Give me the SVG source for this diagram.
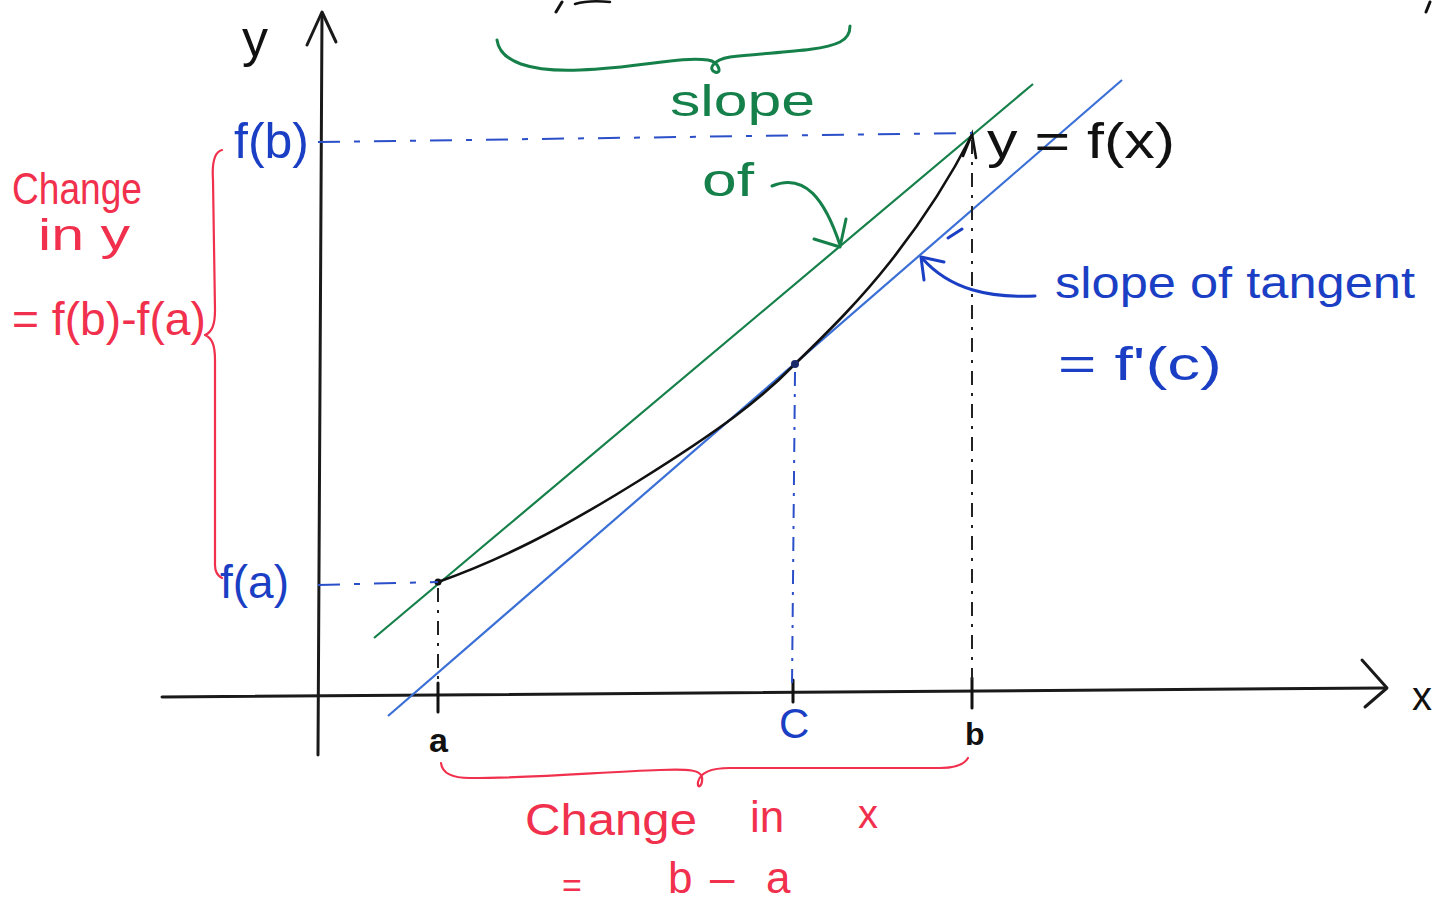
<svg xmlns="http://www.w3.org/2000/svg" width="1455" height="906" viewBox="0 0 1455 906">
<style>
.ax{stroke:#1a1a1a;stroke-width:3;fill:none;stroke-linecap:round;stroke-linejoin:round}
.crv{stroke:#111;stroke-width:2.6;fill:none;stroke-linecap:round}
.gl{stroke:#16804a;stroke-width:2.2;fill:none}
.bl{stroke:#3a6fd6;stroke-width:2.2;fill:none}
.gs{stroke:#16804a;stroke-width:3;fill:none;stroke-linecap:round;stroke-linejoin:round}
.bs{stroke:#1b3fc4;stroke-width:3;fill:none;stroke-linecap:round;stroke-linejoin:round}
.rs{stroke:#f0304c;stroke-width:2.2;fill:none;stroke-linecap:round;stroke-linejoin:round}
.dk{stroke:#222;stroke-width:2;fill:none;stroke-dasharray:14 8 3 8}
.db{stroke:#2a4fc8;stroke-width:2;fill:none;stroke-dasharray:22 14 6 14}
.dbv{stroke:#2a4fc8;stroke-width:2;fill:none;stroke-dasharray:14 8 3 8}
.tick{stroke:#111;stroke-width:3;stroke-linecap:round}
text{font-family:"Liberation Sans","DejaVu Sans",sans-serif}
.tk{fill:#111}
.tg{fill:#16804a}
.tb{fill:#1b3fc4}
.tr{fill:#f0304c}
</style>

<g id="axes">
  <path class="ax" d="M318,755 L322,14"/>
  <path class="ax" d="M307,45 L322,12 L336,42"/>
  <path class="ax" d="M162,697 L1386,688"/>
  <path class="ax" d="M1362,660 L1387,688 L1365,707"/>
  <text class="tk" x="242" y="56" font-size="52">y</text>
  <text class="tk" x="1412" y="710" font-size="40">x</text>
</g>

<g id="top-fragments">
  <path d="M556,12 L562,2" stroke="#111" stroke-width="3" fill="none" stroke-linecap="round"/>
  <path d="M575,4 C585,1 600,1 610,2" stroke="#111" stroke-width="2.5" fill="none" stroke-linecap="round"/>
  <path d="M1430,2 L1426,12" stroke="#111" stroke-width="3" fill="none" stroke-linecap="round"/>
</g>

<g id="secant-line">
  <path class="gl" d="M374,638 L1033,84"/>
</g>

<g id="tangent-line">
  <path class="bl" d="M388,716 L1122,80"/>
</g>

<g id="curve">
  <path class="crv" d="M438,582 C500,560 560,530 640,480 S760,400 795,364 C830,330 860,300 890,262 S950,178 972,135"/>
  <circle cx="438" cy="582" r="3.5" fill="#111"/>
  <circle cx="795" cy="364" r="4" fill="#1a2a6a"/>
  <path class="crv" d="M963,156 L972,134 L976,158"/>
  <text class="tk" x="987" y="158" font-size="50" textLength="188" lengthAdjust="spacingAndGlyphs">y = f(x)</text>
</g>

<g id="ticks">
  <path class="tick" d="M438,683 L438,712"/>
  <path class="tick" d="M793,680 L793,702"/>
  <path class="tick" d="M972,678 L972,708"/>
  <text class="tk" x="429" y="752" font-size="34" font-weight="bold">a</text>
  <text class="tb" x="779" y="738" font-size="42">C</text>
  <text class="tk" x="965" y="745" font-size="32" font-weight="bold">b</text>
</g>

<g id="y-labels">
  <text class="tb" x="234" y="158" font-size="50">f(b)</text>
  <text class="tb" x="220" y="598" font-size="46">f(a)</text>
</g>

<g id="connectors">
  <path class="db" d="M318,142 L972,133"/>
  <path class="db" d="M318,585 L438,582"/>
  <path class="dk" d="M438,588 L438,685"/>
  <path class="dbv" d="M795,372 L792,686"/>
  <path class="dk" d="M972,140 L972,680"/>
  <path class="bs" d="M948,238 L962,229" stroke-width="2"/>
  <path class="gs" d="M772,186 C805,172 825,200 840,245"/>
  <path class="gs" d="M814,239 L840,247 L846,219"/>
  <path class="bs" d="M1035,296 C990,298 950,290 922,258"/>
  <path class="bs" d="M924,280 L921,257 L944,262"/>
</g>

<g id="secant-label">
  <path class="gs" d="M497,40 C500,62 530,72 580,70 C640,68 680,56 708,60 C720,62 722,75 715,72 C708,70 712,60 730,57 C770,52 820,52 840,42 C848,38 850,32 850,26"/>
  <text class="tg" x="670" y="116" font-size="44" textLength="145" lengthAdjust="spacingAndGlyphs">slope</text>
  <text class="tg" x="702" y="196" font-size="46" textLength="52" lengthAdjust="spacingAndGlyphs">of</text>
</g>

<g id="tangent-label">
  <text class="tb" x="1055" y="298" font-size="44" textLength="360" lengthAdjust="spacingAndGlyphs">slope of tangent</text>
  <text class="tb" x="1058" y="380" font-size="46" textLength="164" lengthAdjust="spacingAndGlyphs">= f'(c)</text>
</g>

<g id="change-in-y">
  <path class="rs" d="M222,150 C214,152 212,165 213,180 L215,310 C215,325 212,332 205,335 C212,338 215,345 215,360 L215,565 C215,572 218,576 222,578"/>
  <text class="tr" x="12" y="204" font-size="44" textLength="130" lengthAdjust="spacingAndGlyphs">Change</text>
  <text class="tr" x="38" y="250" font-size="44" textLength="92" lengthAdjust="spacingAndGlyphs">in y</text>
  <text class="tr" x="12" y="335" font-size="46" textLength="194" lengthAdjust="spacingAndGlyphs">= f(b)-f(a)</text>
</g>

<g id="change-in-x">
  <path class="rs" d="M441,763 C442,772 450,778 470,778 C540,778 600,772 660,770 C690,769 700,770 702,777 C703,786 697,790 698,782 C700,773 710,768 730,768 L940,768 C955,768 964,765 968,758"/>
  <text class="tr" font-size="44"><tspan x="525" y="835" textLength="172" lengthAdjust="spacingAndGlyphs">Change</tspan><tspan x="750" y="832">in</tspan><tspan x="858" y="828" font-size="40">x</tspan></text>
  <text class="tr" font-size="44"><tspan x="562" y="897" font-size="34">=</tspan><tspan x="668" y="893">b</tspan><tspan x="710" y="893">–</tspan><tspan x="766" y="893">a</tspan></text>
</g>
</svg>
